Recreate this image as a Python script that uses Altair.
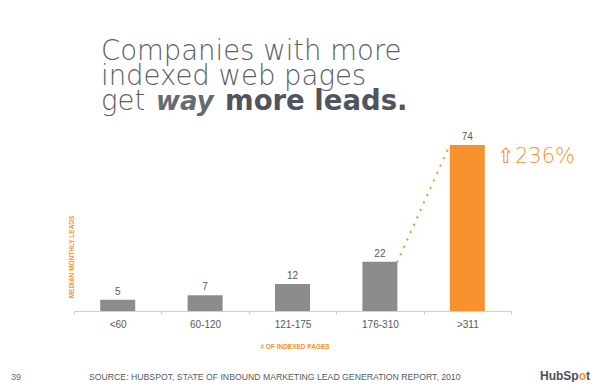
import altair as alt
import pandas as pd

# ---- data ----
categories = ["<60", "60-120", "121-175", "176-310", ">311"]
leads = [5, 7, 12, 22, 74]
highlight = [False, False, False, False, True]

title_lines = ["Companies with more", "indexed web pages"]
title_last = ["get ", "way", "more leads."]
growth_label = "\u21e7236%"
y_title = "MEDIAN MONTHLY LEADS"
x_title = "# OF INDEXED PAGES"
source_text = "SOURCE: HUBSPOT, STATE OF INBOUND MARKETING LEAD GENERATION REPORT, 2010"
page_number = "39"
logo_parts = ["HubSp", "o", "t"]

GRAY = "#8c8c8c"
ORANGE = "#f7922f"
TEXT = "#555a60"

df = pd.DataFrame({"cat": categories, "leads": leads, "hl": ["yes" if h else "no" for h in highlight]})
seg = pd.DataFrame({"c1": [categories[3]], "c2": [categories[4]], "v1": [leads[3]], "v2": [leads[4]]})

xscale = alt.Scale(domain=categories, paddingInner=0, paddingOuter=0)
yscale = alt.Scale(domain=[0, 74], nice=False, zero=True)

base = alt.Chart(df)

bars = base.mark_bar(size=35).encode(
    x=alt.X("cat:N", scale=xscale, sort=categories,
            axis=alt.Axis(title=None, labelAngle=0, labelFontSize=10, labelColor=TEXT,
                          labelFont="Liberation Sans", domainColor="#cfcfcf", tickColor="#cfcfcf",
                          tickSize=3, tickBand="extent", labelPadding=5, domainWidth=1)),
    y=alt.Y("leads:Q", scale=yscale, axis=None),
    color=alt.Color("hl:N", scale=alt.Scale(domain=["no", "yes"], range=[GRAY, ORANGE]), legend=None),
)

values = base.mark_text(baseline="alphabetic", dy=-5, fontSize=10, color=TEXT, font="Liberation Sans").encode(
    x=alt.X("cat:N", scale=xscale, sort=categories),
    y=alt.Y("leads:Q", scale=yscale),
    text="leads:Q",
)

dots = alt.Chart(seg).mark_rule(color=ORANGE, strokeWidth=2.2, strokeDash=[0.1, 8], strokeCap="round",
                                xOffset=17.5, x2Offset=-17.5).encode(
    x=alt.X("c1:N", scale=xscale),
    x2="c2:N",
    y=alt.Y("v1:Q", scale=yscale),
    y2="v2:Q",
)

def txt(s, x, y, size, color, font="DejaVu Sans", weight="normal", style="normal",
        align="left", baseline="alphabetic", angle=0):
    return alt.Chart(pd.DataFrame({"t": [s]})).mark_text(
        fontSize=size, color=color, font=font, fontWeight=weight, fontStyle=style,
        align=align, baseline=baseline, angle=angle,
    ).encode(x=alt.value(x), y=alt.value(y), text="t:N")

# plot origin is at page (74, 145)
ox, oy = 74, 145
anns = [
    txt(title_lines[0], 101 - ox, 60 - oy, 27.5, "#5b6066", weight=200),
    txt(title_lines[1], 101 - ox, 85 - oy, 27.5, "#5b6066", weight=200),
    txt(title_last[0], 101 - ox, 110 - oy, 27.5, "#5b6066", weight=200),
    txt(title_last[1], 156 - ox, 110 - oy, 26, "#666b72", weight="bold", style="italic"),
    txt(title_last[2], 225 - ox, 110 - oy, 27.5, "#50555b", weight="bold"),
    txt(growth_label, 497 - ox, 157 - oy, 21, ORANGE, weight=200, baseline="middle"),
    txt(y_title, 72 - ox, 257 - oy, 6.5, ORANGE, font="Liberation Sans",
        weight="bold", align="center", baseline="middle", angle=270),
    txt(x_title, 295 - ox, 347 - oy, 6.5, ORANGE, font="Liberation Sans",
        weight="bold", align="center", baseline="middle"),
    txt(page_number, 11 - ox, 380 - oy, 9, "#666", font="Liberation Sans"),
    txt(source_text, 89 - ox, 380 - oy, 8.7, TEXT, font="Liberation Sans"),
    txt(logo_parts[0], 540 - ox, 380 - oy, 12, "#4a4f55", font="Liberation Sans", weight="bold"),
    txt(logo_parts[1], 578.7 - ox, 380 - oy, 12, ORANGE, font="Liberation Sans", weight="bold"),
    txt(logo_parts[2], 586 - ox, 380 - oy, 12, "#4a4f55", font="Liberation Sans", weight="bold"),
]

chart = alt.layer(bars, dots, values, *anns).properties(
    width=437, height=166,
    autosize=alt.AutoSizeParams(type="none"),
    padding={"left": 66, "top": 137, "right": 81, "bottom": 71},
    background="white",
).configure_view(stroke=None)

chart.save("out.html", embed_options={"renderer": "svg", "actions": False})
